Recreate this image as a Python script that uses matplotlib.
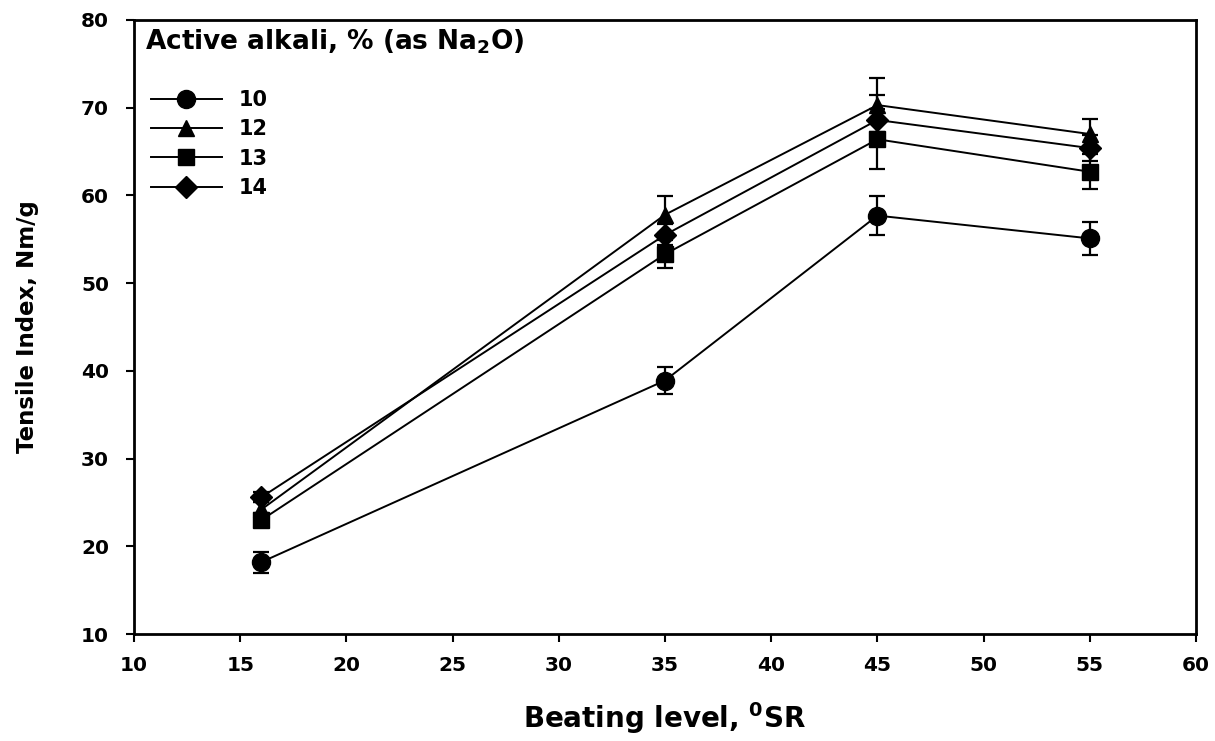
import matplotlib
matplotlib.use("Agg")
import matplotlib.pyplot as plt
from matplotlib.lines import Line2D

plt.rcParams['font.family'] = ['DejaVu Sans']
plt.rcParams['font.weight'] = 'bold'
plt.rcParams['mathtext.fontset'] = 'custom'
plt.rcParams['mathtext.rm'] = 'DejaVu Sans:bold'
plt.rcParams['mathtext.bf'] = 'DejaVu Sans:bold'
plt.rcParams['mathtext.it'] = 'DejaVu Sans:bold'

# Data
beating = [16, 35, 45, 55]
labels = ['10', '12', '13', '14']
s10 = [18.2, 38.9, 57.7, 55.1]
s12 = [24.2, 57.8, 70.3, 67.0]
s13 = [23.0, 53.3, 66.4, 62.7]
s14 = [25.6, 55.5, 68.6, 65.4]
e10 = [1.2, 1.5, 2.2, 1.9]
e12 = [0.8, 2.1, 3.1, 1.7]
e13 = [0.8, 1.6, 3.4, 2.0]
e14 = [0.6, 1.2, 2.9, 1.5]
series = [s10, s12, s13, s14]
errors = [e10, e12, e13, e14]
markers = ['o', '^', 's', 'D']
msizes = [13, 12, 12, 11]

fig = plt.figure(figsize=(12.15, 7.41), dpi=100)
ax = fig.add_axes([134/1215, 1-634/741, (1196-134)/1215, (634-20)/741])

handles = []
for y, e, m, ms, lab in zip(series, errors, markers, msizes, labels):
    ax.errorbar(beating, y, yerr=e, color='black', marker=m, markersize=ms,
                linewidth=1.4, elinewidth=1.6, capsize=6, capthick=1.6)
    handles.append(Line2D([], [], color='black', marker=m, markersize=ms, linewidth=1.4))

ax.set_xlim(10, 60)
ax.set_ylim(10, 80)
ax.set_xticks(range(10, 61, 5))
ax.set_yticks(range(10, 81, 10))
ax.tick_params(direction='out', length=6, width=1.5, labelsize=14.5)
ax.tick_params(axis='x', pad=10)
ax.tick_params(axis='y', pad=12)
for lab in ax.get_xticklabels() + ax.get_yticklabels():
    lab.set_fontweight('bold')
for sp in ax.spines.values():
    sp.set_linewidth(2)

ax.set_xlabel(r'Beating level, $^{\mathbf{0}}$SR', fontsize=20, fontweight='bold', labelpad=18)
ax.set_ylabel('Tensile Index, Nm/g', fontsize=16.5, fontweight='bold', labelpad=30)

ax.text(0.010, 0.987, r'Active alkali, % (as Na$_{\mathbf{2}}$O)', transform=ax.transAxes,
        fontsize=19, fontweight='bold', va='top', ha='left')

leg = ax.legend(handles=handles, labels=labels, loc='upper left',
                bbox_to_anchor=(0.002, 0.91), frameon=False, fontsize=15,
                handlelength=3.4, labelspacing=0.45, handletextpad=0.8,
                borderaxespad=0.3)
for t in leg.get_texts():
    t.set_fontweight('bold')

fig.savefig('out.png', dpi=100)
